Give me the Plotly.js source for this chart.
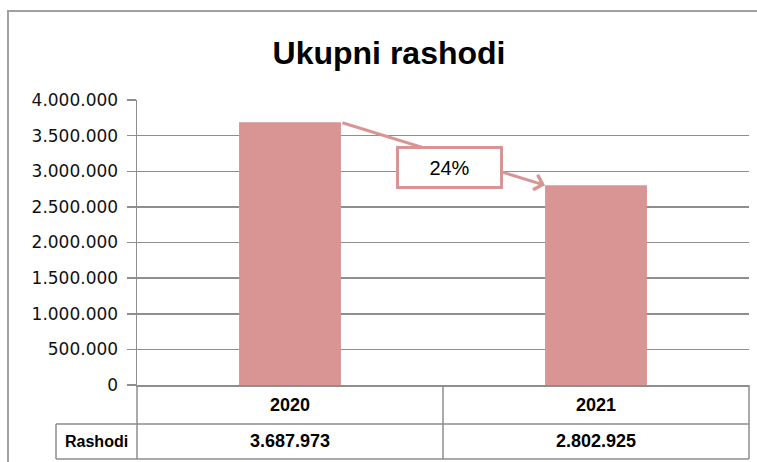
<!DOCTYPE html>
<html>
<head>
<meta charset="utf-8">
<script src="https://cdn.plot.ly/plotly-3.0.1.min.js"></script>
<style>
  html, body { margin: 0; padding: 0; background: #fff; }
  #chart { width: 757px; height: 462px; }
</style>
</head>
<body>
<div id="chart"></div>
<script>
// ---- data ----
const categories = ['2020', '2021'];
const rashodi = [3687973, 2802925];
const seriesName = 'Rashodi';
const chartTitle = 'Ukupni rashodi';
const yTickValues = [0, 500000, 1000000, 1500000, 2000000, 2500000, 3000000, 3500000, 4000000];

// ---- helpers ----
function fmt(n) { return String(n).replace(/\B(?=(\d{3})+(?!\d))/g, '.'); }

const W = 757, H = 462;
const M = { l: 137, r: 8, t: 100, b: 77 };
const plotW = W - M.l - M.r, plotH = H - M.t - M.b;
const px = x => (x - M.l) / plotW;          // pixel -> paper x
const py = y => (H - M.b - y) / plotH;       // pixel -> paper y

const barColor = '#D99594';
const lineColor = '#8e8e8e';
const barWidth = 0.333;

const pct = Math.round((rashodi[0] - rashodi[1]) / rashodi[0] * 100);

const trace = {
  type: 'bar',
  x: [0, 1],
  y: rashodi,
  width: barWidth,
  marker: { color: barColor, line: { width: 0 } },
  name: seriesName,
  hoverinfo: 'skip'
};

const shapes = [];
const tbl = { color: lineColor, width: 1.5 };
// outer frame (top and left)
shapes.push({ type: 'line', xref: 'paper', yref: 'paper', x0: px(7), x1: px(757), y0: py(11), y1: py(11), line: { color: '#a0a0a0', width: 2 } });
shapes.push({ type: 'line', xref: 'paper', yref: 'paper', x0: px(8), x1: px(8), y0: py(11), y1: py(462), line: { color: '#a0a0a0', width: 2 } });
// data table
const rowMid = py(424), rowBot = py(459), leftCell = px(56);
shapes.push({ type: 'line', xref: 'paper', yref: 'paper', x0: 0, x1: 0, y0: 0, y1: rowMid, line: tbl });
shapes.push({ type: 'line', xref: 'paper', yref: 'paper', x0: leftCell, x1: 1, y0: rowMid, y1: rowMid, line: tbl });
shapes.push({ type: 'line', xref: 'paper', yref: 'paper', x0: leftCell, x1: 1, y0: rowBot, y1: rowBot, line: tbl });
shapes.push({ type: 'line', xref: 'paper', yref: 'paper', x0: leftCell, x1: leftCell, y0: rowMid, y1: rowBot, line: tbl });
shapes.push({ type: 'line', xref: 'paper', yref: 'paper', x0: 0, x1: 0, y0: rowMid, y1: rowBot, line: tbl });
shapes.push({ type: 'line', xref: 'paper', yref: 'paper', x0: 1, x1: 1, y0: 0, y1: rowBot, line: tbl });
for (let i = 0; i < categories.length - 1; i++) {
  shapes.push({ type: 'line', xref: 'x', yref: 'paper', x0: i + 0.5, x1: i + 0.5, y0: 0, y1: rowBot, line: tbl });
}

const annotations = [];
const tableFont = { family: 'Liberation Sans, Arial, sans-serif', size: 18, color: '#000' };
categories.forEach((c, i) => {
  annotations.push({ xref: 'x', yref: 'paper', x: i, y: py(405), text: '<b>' + c + '</b>', showarrow: false, xanchor: 'center', yanchor: 'middle', font: tableFont });
  annotations.push({ xref: 'x', yref: 'paper', x: i, y: py(441), text: '<b>' + fmt(rashodi[i]) + '</b>', showarrow: false, xanchor: 'center', yanchor: 'middle', font: tableFont });
});
annotations.push({ xref: 'paper', yref: 'paper', x: px(96), y: py(441), text: '<b>' + seriesName + '</b>', showarrow: false, xanchor: 'center', yanchor: 'middle', font: { family: 'Liberation Sans, Arial, sans-serif', size: 16, color: '#000' } });

// arrow from top-right of first bar to top-left of second bar
annotations.push({
  xref: 'x', yref: 'y', axref: 'x', ayref: 'y',
  x: 1 - barWidth / 2, y: rashodi[1],
  ax: 0 + barWidth / 2, ay: rashodi[0],
  text: '', showarrow: true, arrowhead: 4, arrowsize: 1, arrowwidth: 3, arrowcolor: barColor,
  standoff: 0, startstandoff: 0
});
// percent box
annotations.push({
  xref: 'x', yref: 'y', x: 0.52, y: 3053000,
  text: pct + '%', showarrow: false,
  font: { family: 'Liberation Sans, Arial, sans-serif', size: 20, color: '#000' },
  bgcolor: '#fff', bordercolor: barColor, borderwidth: 3, borderpad: 0,
  width: 101, height: 37, xanchor: 'center', yanchor: 'middle'
});

const layout = {
  width: W, height: H,
  margin: M,
  paper_bgcolor: '#fff', plot_bgcolor: '#fff',
  separators: ',.',
  showlegend: false,
  title: {
    text: '<b>' + chartTitle + '</b>',
    x: px(389), xanchor: 'center', y: 1 - 53 / H, yanchor: 'middle', xref: 'paper',
    font: { family: 'Liberation Sans, Arial, sans-serif', size: 32, color: '#000' }
  },
  xaxis: {
    type: 'linear', range: [-0.5, 1.5],
    showticklabels: false, showgrid: false, zeroline: false,
    showline: true, linecolor: lineColor, linewidth: 1.5,
    ticks: '', fixedrange: true
  },
  yaxis: {
    range: [0, 4000000],
    tickvals: yTickValues,
    tickformat: ',d',
    showgrid: true, gridcolor: lineColor, gridwidth: 1.5,
    zeroline: false,
    showline: true, linecolor: lineColor, linewidth: 1.5,
    ticks: 'outside', ticklen: 9, tickwidth: 1.5, tickcolor: lineColor,
    tickfont: { family: 'DejaVu Sans, Verdana, sans-serif', size: 17, color: '#111' },
    ticklabelstandoff: 5,
    fixedrange: true
  },
  shapes: shapes,
  annotations: annotations
};

Plotly.newPlot('chart', [trace], layout, { displayModeBar: false, staticPlot: true });
</script>
</body>
</html>
